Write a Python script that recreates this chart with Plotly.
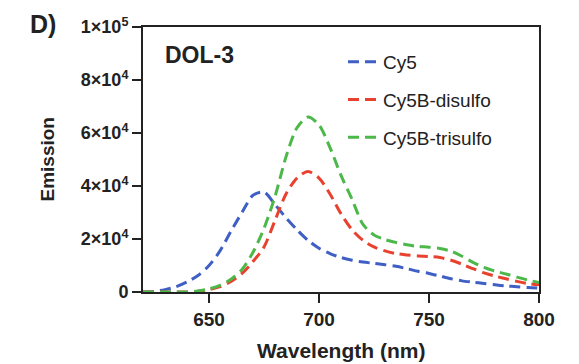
import plotly.graph_objects as go

wavelength = [620, 625, 630, 635, 640, 645, 650, 655, 660, 665, 670, 675, 680, 685, 690, 695,
              700, 705, 710, 715, 720, 725, 730, 735, 740, 745, 750, 755, 760, 765, 770, 775,
              780, 785, 790, 795, 800]

cy5 = [0, 200, 900, 2000, 3800, 6200, 10000, 15500, 23000, 30000, 36500, 37700, 33000, 28000,
       23500, 19500, 16500, 14500, 13000, 12000, 11300, 10800, 10300, 9700, 8800, 7800, 7000,
       6000, 5000, 4200, 3700, 3200, 2700, 2300, 2000, 1700, 1500]

cy5b_disulfo = [0, 0, 0, 0, 0, 300, 900, 2000, 4000, 7000, 11500, 17000, 27000, 37000, 43000,
                45500, 43000, 37000, 29500, 23500, 19500, 17000, 15500, 14500, 14000, 13600,
                13400, 13000, 12000, 10500, 8800, 7200, 6000, 5000, 4000, 3200, 2700]

cy5b_trisulfo = [0, 0, 0, 0, 0, 400, 1200, 2500, 4800, 8500, 15000, 24000, 36000, 51000, 62000,
                 66000, 63000, 54500, 44000, 35000, 25500, 21500, 19800, 18700, 17800, 17200,
                 16900, 16400, 15400, 13500, 11200, 9300, 7900, 6800, 5600, 4500, 3600]

series_names = ["Cy5", "Cy5B-disulfo", "Cy5B-trisulfo"]
series_colors = ["#3f5fc4", "#e8412e", "#4db84a"]

y_tickvals = [0, 20000, 40000, 60000, 80000, 100000]
y_ticktext = ["0", "2×10<sup>4</sup>", "4×10<sup>4</sup>", "6×10<sup>4</sup>",
              "8×10<sup>4</sup>", "1×10<sup>5</sup>"]
x_tickvals = [650, 700, 750, 800]

FONT = "Liberation Sans, Arial, sans-serif"
INK = "#222"

# the page body has an 8px margin; compensate so the picture lines up
OFF = 8
W, H = 579 - OFF, 364 - OFF
L, T = 143 - OFF, 27 - OFF
pw, ph = 396, 265
R, B = W - L - pw, H - T - ph


def px(x):
    return (x - OFF - L) / pw


def py(y):
    return (T + ph - (y - OFF)) / ph


fig = go.Figure()
for i, (name, ys, col) in enumerate(zip(series_names, [cy5, cy5b_disulfo, cy5b_trisulfo], series_colors)):
    fig.add_trace(go.Scatter(
        x=wavelength, y=ys, name=name, mode="lines",
        line=dict(color=col, width=3, dash="11px,6px", shape="spline", smoothing=0.8),
        legendgroup=f"g{i}",
    ))

fig.update_layout(
    width=W, height=H,
    margin=dict(l=L, r=R, t=T, b=B, autoexpand=False),
    plot_bgcolor="white", paper_bgcolor="white",
    font=dict(family=FONT, color=INK),
    showlegend=True,
    legend=dict(x=px(343), y=py(43), xanchor="left", yanchor="top",
                font=dict(size=19, family=FONT, color=INK),
                bgcolor="rgba(0,0,0,0)", tracegroupgap=10, traceorder="grouped"),
    xaxis=dict(range=[620, 800], tickvals=x_tickvals, ticks="outside", ticklen=9, tickwidth=2,
               tickcolor=INK, showline=True, linewidth=2, linecolor=INK, mirror=True,
               showgrid=False, zeroline=False, automargin=False,
               tickfont=dict(size=19, family=FONT, weight="bold", color=INK)),
    yaxis=dict(range=[0, 100000], tickvals=y_tickvals, ticktext=y_ticktext, ticks="outside",
               ticklen=9, tickwidth=2, tickcolor=INK, showline=True, linewidth=2,
               linecolor=INK, mirror=True, showgrid=False, zeroline=False, automargin=False,
               tickfont=dict(size=18, family=FONT, weight="bold", color=INK)),
    annotations=[
        dict(text="D)", x=px(43), y=py(24), xref="paper", yref="paper",
             xanchor="center", yanchor="middle", showarrow=False,
             font=dict(size=25, family=FONT, weight="bold", color=INK)),
        dict(text="DOL-3", x=px(163), y=py(55), xref="paper", yref="paper",
             xanchor="left", yanchor="middle", showarrow=False,
             font=dict(size=23, family=FONT, weight="bold", color=INK)),
        dict(text="Emission", x=px(47), y=0.5, xref="paper", yref="paper",
             xanchor="center", yanchor="middle", textangle=-90, showarrow=False,
             font=dict(size=19, family=FONT, weight="bold", color=INK)),
        dict(text="Wavelength (nm)", x=0.5, y=py(350), xref="paper", yref="paper",
             xanchor="center", yanchor="middle", showarrow=False,
             font=dict(size=21, family=FONT, weight="bold", color=INK)),
    ],
)

fig.write_html("out.html")
